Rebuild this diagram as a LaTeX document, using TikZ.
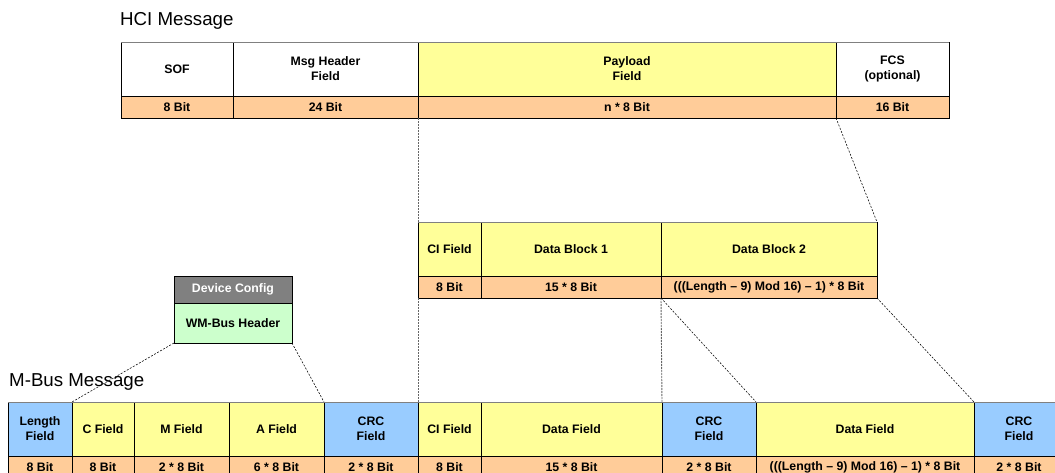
\documentclass[tikz,border=0pt]{standalone}
\usepackage{fontspec}
\setmainfont{Liberation Sans}
\definecolor{cyel}{HTML}{FFFF99}
\definecolor{corg}{HTML}{FFCC99}
\definecolor{cblu}{HTML}{99CCFF}
\definecolor{cgrn}{HTML}{CCFFCC}
\definecolor{cgry}{HTML}{808080}
\begin{document}
\begin{tikzpicture}[x=1pt,y=-1pt,
  cell/.style={inner sep=0pt, outer sep=0pt, anchor=north west, align=center,
    draw=black, line width=0.8pt,
    font=\bfseries\fontsize{12.3}{14.8}\selectfont},
  hdr/.style={cell, minimum height=54pt},
  bit/.style={cell, fill=corg, minimum height=22pt},
  title/.style={inner sep=0pt, anchor=west, font=\fontsize{18.7}{22}\selectfont},
  conn/.style={draw=black, line width=0.55pt, dash pattern=on 2pt off 1.5pt},
  vconn/.style={draw=cgry!80!black, line width=0.9pt, dash pattern=on 2pt off 1pt},
  topedge/.style={draw=cgry, line width=0.9pt}]
\useasboundingbox (0,0) rectangle (1055,473);

% ---- HCI Message ----
\node[title] (hcil) at (120,21) {HCI Message};
\node[hdr, fill=white, minimum width=112pt] (sof) at (121,42) {SOF};
\node[hdr, fill=white, minimum width=185pt] (msg) at (233,42) {Msg Header\\Field};
\node[hdr, fill=cyel, minimum width=418pt] (pay) at (418,42) {Payload\\Field};
\node[hdr, fill=white, minimum width=113pt] (fcs) at (836,42) {FCS\\(optional)};
\node[bit, minimum width=112pt] (sofbit) at (121,96) {8 Bit};
\node[bit, minimum width=185pt] (msgbit) at (233,96) {24 Bit};
\node[bit, minimum width=418pt] (paybit) at (418,96) {n * 8 Bit};
\node[bit, minimum width=113pt] (fcsbit) at (836,96) {16 Bit};
\draw[topedge] (sof.north west) -- (fcs.north east);

% ---- Payload breakdown ----
\node[hdr, fill=cyel, minimum width=63pt] (ci) at (418,222) {CI Field};
\node[hdr, fill=cyel, minimum width=180pt] (db1) at (481,222) {Data Block 1};
\node[hdr, fill=cyel, minimum width=216pt] (db2) at (661,222) {Data Block 2};
\node[bit, minimum width=63pt] (cibit) at (418,276) {8 Bit};
\node[bit, minimum width=180pt] (db1bit) at (481,276) {15 * 8 Bit};
\node[bit, minimum width=216pt] (db2bit) at (661,276) {(((Length -- 9) Mod 16) -- 1) * 8 Bit};
\draw[topedge] (ci.north west) -- (db2.north east);

% ---- Device config ----
\node[cell, fill=cgry, text=white, minimum width=118pt, minimum height=27pt] (dc) at (174,276) {Device Config};
\node[cell, fill=cgrn, minimum width=118pt, minimum height=40pt] (wm) at (174,303) {WM-Bus Header};

% ---- M-Bus Message ----
\node[title] (mbl) at (9,382) {M-Bus Message};
\node[hdr, fill=cblu, minimum width=64pt] (blen) at (8,402) {Length\\Field};
\node[hdr, fill=cyel, minimum width=62pt] (bc) at (72,402) {C Field};
\node[hdr, fill=cyel, minimum width=95pt] (bm) at (134,402) {M Field};
\node[hdr, fill=cyel, minimum width=95pt] (ba) at (229,402) {A Field};
\node[hdr, fill=cblu, minimum width=94pt] (bcrc1) at (324,402) {CRC\\Field};
\node[hdr, fill=cyel, minimum width=63pt] (bci) at (418,402) {CI Field};
\node[hdr, fill=cyel, minimum width=181pt] (bdata1) at (481,402) {Data Field};
\node[hdr, fill=cblu, minimum width=94pt] (bcrc2) at (662,402) {CRC\\Field};
\node[hdr, fill=cyel, minimum width=218pt] (bdata2) at (756,402) {Data Field};
\node[hdr, fill=cblu, minimum width=90pt] (bcrc3) at (974,402) {CRC\\Field};
\node[bit, minimum width=64pt] (blenb) at (8,456) {8 Bit};
\node[bit, minimum width=62pt] (bcb) at (72,456) {8 Bit};
\node[bit, minimum width=95pt] (bmb) at (134,456) {2 * 8 Bit};
\node[bit, minimum width=95pt] (bab) at (229,456) {6 * 8 Bit};
\node[bit, minimum width=94pt] (bcrc1b) at (324,456) {2 * 8 Bit};
\node[bit, minimum width=63pt] (bcib) at (418,456) {8 Bit};
\node[bit, minimum width=181pt] (bdata1b) at (481,456) {15 * 8 Bit};
\node[bit, minimum width=94pt] (bcrc2b) at (662,456) {2 * 8 Bit};
\node[bit, minimum width=218pt] (bdata2b) at (756,456) {(((Length -- 9) Mod 16) -- 1) * 8 Bit};
\node[bit, minimum width=90pt] (bcrc3b) at (974,456) {2 * 8 Bit};
\draw[topedge] (blen.north west) -- (bcrc3.north east);

% ---- connectors ----
\draw[vconn] (paybit.south west) -- (ci.north west);
\draw[conn] (fcsbit.south west) -- (db2.north east);
\draw[vconn] (cibit.south west) -- (bci.north west);
\draw[vconn] (db2bit.south west) -- (bcrc2.north west);
\draw[conn] (db2bit.south west) -- (bdata2.north west);
\draw[conn] (db2bit.south east) -- (bcrc3.north west);
\draw[conn] (wm.south west) -- (bc.north west);
\draw[conn] (wm.south east) -- (bcrc1.north west);
\end{tikzpicture}
\end{document}
